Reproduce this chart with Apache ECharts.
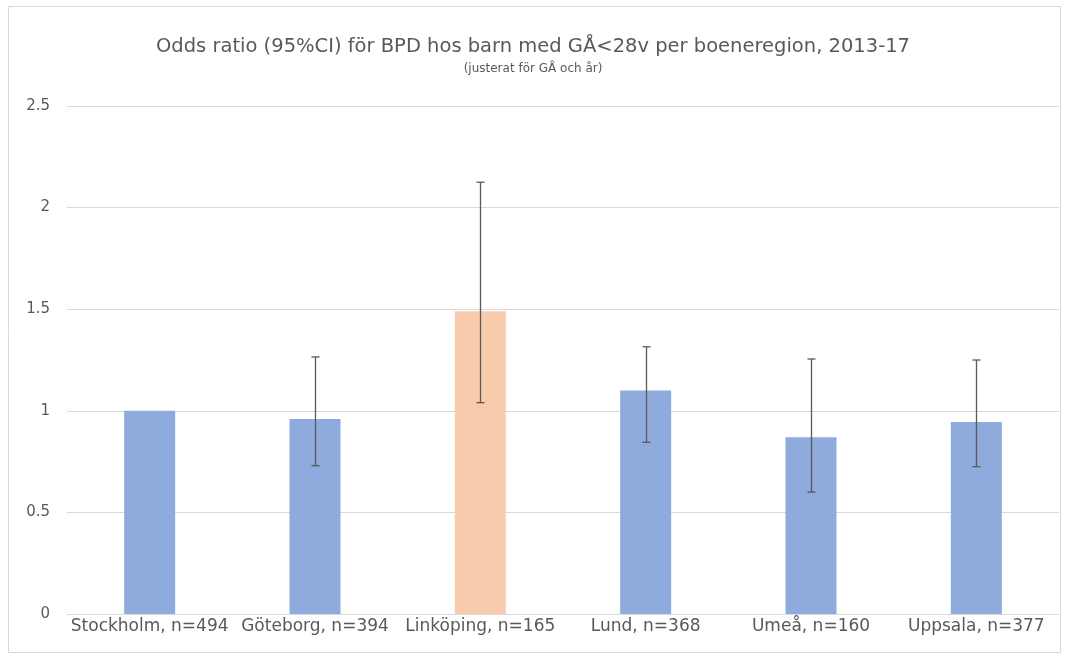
<!DOCTYPE html>
<html>
<head>
<meta charset="utf-8">
<script src="https://cdn.jsdelivr.net/npm/echarts@6/dist/echarts.min.js"></script>
<style>html,body{margin:0;padding:0;background:#fff}#c{width:1066px;height:659px}</style>
</head>
<body>
<div id="c"></div>
<script>
const categories = ['Stockholm, n=494','Göteborg, n=394','Linköping, n=165','Lund, n=368','Umeå, n=160','Uppsala, n=377'];
const oddsRatio = [1.0, 0.96, 1.49, 1.10, 0.87, 0.945];
const ciLower = [1.0, 0.73, 1.04, 0.845, 0.60, 0.725];
const ciUpper = [1.0, 1.265, 2.125, 1.315, 1.255, 1.25];
const hasCI = [false, true, true, true, true, true];
const yTicks = [0, 0.5, 1, 1.5, 2, 2.5];
const highlightIndex = 2;

const chart = echarts.init(document.getElementById('c'));
const font = 'DejaVu Sans, sans-serif';
const errData = categories.map((c, i) => hasCI[i] ? [i, ciLower[i], ciUpper[i]] : null).filter(d => d);

chart.setOption({
  animation: false,
  graphic: [{
    type: 'rect', shape: {x: 8.5, y: 6.5, width: 1052, height: 646},
    style: {fill: 'none', stroke: '#d9d9d9', lineWidth: 1}, silent: true, z: -10
  }, {
    type: 'text', left: 'center', top: 63,
    style: {text: '(justerat för GÅ och år)', fontFamily: font, fontSize: 12, fill: '#595959'}
  }],
  title: {
    text: 'Odds ratio (95%CI) för BPD hos barn med GÅ<28v per boeneregion, 2013-17',
    left: 'center', top: 32,
    textStyle: {fontFamily: font, fontSize: 19.5, fontWeight: 'normal', color: '#595959'}
  },
  grid: {left: 67, right: 7, top: 106, bottom: 45, containLabel: false},
  xAxis: {
    type: 'category', data: categories,
    axisLine: {lineStyle: {color: '#d9d9d9'}},
    axisTick: {show: false},
    axisLabel: {fontFamily: font, fontSize: 17, color: '#595959', margin: 4, interval: 0}
  },
  yAxis: {
    type: 'value', min: 0, max: 2.5, interval: 0.5,
    axisLine: {show: false}, axisTick: {show: false},
    splitLine: {lineStyle: {color: '#d9d9d9'}},
    axisLabel: {fontFamily: font, fontSize: 15, color: '#595959', margin: 17,
      formatter: v => yTicks.includes(v) ? String(v) : ''}
  },
  series: [{
    type: 'bar', barWidth: 51,
    data: oddsRatio.map((v, i) => ({value: v, itemStyle: {color: i === highlightIndex ? '#f8cbad' : '#8faadc'}}))
  }, {
    type: 'custom',
    data: errData,
    z: 10,
    renderItem: function (params, api) {
      const x = api.value(0);
      const lo = api.coord([x, api.value(1)]);
      const hi = api.coord([x, api.value(2)]);
      const cx = Math.round(lo[0]) + 0.5;
      const hw = 4;
      const st = {stroke: '#595959', lineWidth: 1.3};
      return {type: 'group', children: [
        {type: 'line', shape: {x1: cx, y1: hi[1], x2: cx, y2: lo[1]}, style: st},
        {type: 'line', shape: {x1: cx - hw, y1: hi[1], x2: cx + hw, y2: hi[1]}, style: st},
        {type: 'line', shape: {x1: cx - hw, y1: lo[1], x2: cx + hw, y2: lo[1]}, style: st}
      ]};
    }
  }]
});
</script>
</body>
</html>
